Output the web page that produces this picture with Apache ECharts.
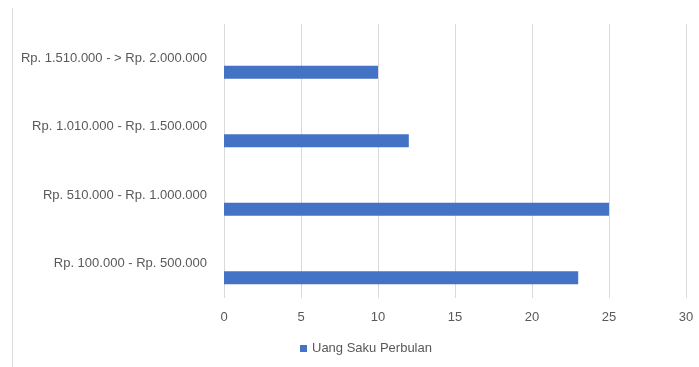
<!DOCTYPE html>
<html>
<head>
<meta charset="utf-8">
<script src="https://cdn.jsdelivr.net/npm/echarts@6/dist/echarts.min.js"></script>
<style>
  html, body { margin: 0; padding: 0; background: #fff; }
  #chart { width: 699px; height: 367px; }
</style>
</head>
<body>
<div id="chart"></div>
<script>
// kategori dari bawah ke atas (urutan sumbu Excel)
const categories = [
  'Rp. 100.000 - Rp. 500.000',
  'Rp. 510.000 - Rp. 1.000.000',
  'Rp. 1.010.000 - Rp. 1.500.000',
  'Rp. 1.510.000 - > Rp. 2.000.000'
];
const uangSaku = [23, 25, 12, 10];
const seriesName = 'Uang Saku Perbulan';

const FONT = '"Liberation Sans", Arial, sans-serif';
const TEXT = '#595959';
const GRID = '#d9d9d9';

const chart = echarts.init(document.getElementById('chart'), null, { renderer: 'canvas' });

// dua seri kosong hanya untuk menggeser bar ke bawah seperti di Excel
const emptyBar = (n) => ({
  name: n, type: 'bar', data: [], barWidth: 13, barGap: '8%', silent: true
});

chart.setOption({
  animation: false,
  textStyle: { fontFamily: FONT },
  grid: { left: 224, right: 13, top: 24, bottom: 69, containLabel: false },
  xAxis: {
    type: 'value',
    min: 0, max: 30, interval: 5,
    axisLine: { show: false },
    axisTick: { show: false },
    axisLabel: { color: TEXT, fontSize: 13, fontFamily: FONT, margin: 13 },
    splitLine: { show: true, lineStyle: { color: GRID, width: 1 } }
  },
  yAxis: {
    type: 'category',
    data: categories,
    axisLine: { show: false },
    axisTick: { show: false },
    axisLabel: { color: TEXT, fontSize: 13, fontFamily: FONT, margin: 17 },
    splitLine: { show: false }
  },
  legend: {
    data: [seriesName],
    bottom: 7,
    left: 295,
    itemWidth: 7, itemHeight: 7, itemGap: 5,
    icon: 'rect',
    textStyle: { color: TEXT, fontSize: 13, fontFamily: FONT }
  },
  graphic: [{
    type: 'line',
    shape: { x1: 12.5, y1: 8, x2: 12.5, y2: 367 },
    style: { stroke: GRID, lineWidth: 1 }
  }],
  series: [
    emptyBar('a'),
    emptyBar('b'),
    {
      name: seriesName,
      type: 'bar',
      data: uangSaku,
      barWidth: 13,
      barGap: '8%',
      itemStyle: { color: '#4472C4' }
    }
  ]
});
</script>
</body>
</html>
